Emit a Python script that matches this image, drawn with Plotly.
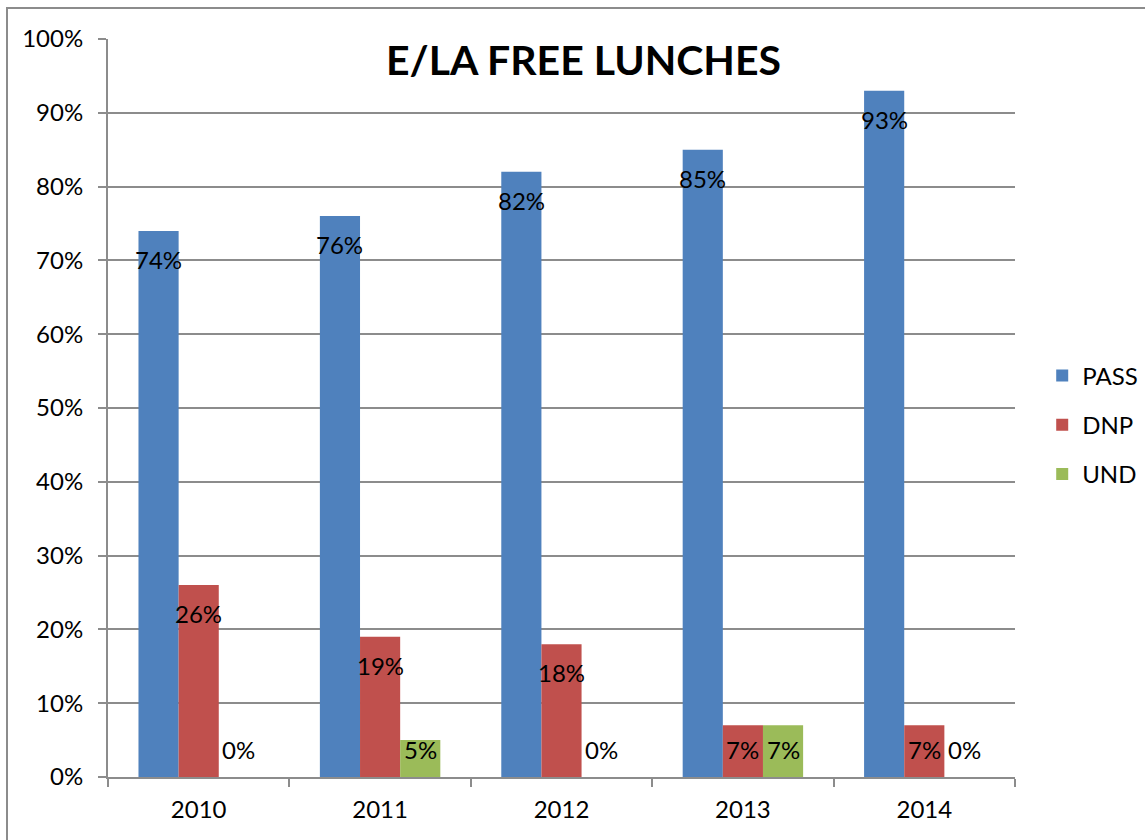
import plotly.graph_objects as go

years = ["2010", "2011", "2012", "2013", "2014"]
series_names = ["PASS", "DNP", "UND"]
pass_vals = [0.74, 0.76, 0.82, 0.85, 0.93]
dnp_vals = [0.26, 0.19, 0.18, 0.07, 0.07]
und_vals = [0.00, 0.05, 0.00, 0.07, 0.00]
colors = ["#4F81BD", "#C0504D", "#9BBB59"]

FONT = "Lato"
FS = 24
all_vals = [pass_vals, dnp_vals, und_vals]
bargap = 0.336
bw = (1 - bargap) / 3

L, R, T, B = 108, 130, 39, 63
W, H = 1145, 840
pw, ph = W - L - R, H - T - B

fig = go.Figure()
for k, (name, vals, col) in enumerate(zip(series_names, all_vals, colors)):
    fig.add_trace(go.Bar(
        x=years, y=vals, name=name, marker=dict(color=col, line=dict(width=0)),
        legendgroup=name,
    ))

annotations = []
for k, vals in enumerate(all_vals):
    off = (k - 1) * bw
    for i, v in enumerate(vals):
        annotations.append(dict(
            x=i + off, y=max(v - 0.039, 0.0366), xref="x", yref="y",
            text=f"{round(v*100)}%", showarrow=False,
            font=dict(family=FONT, size=FS, color="black"),
            xanchor="center", yanchor="middle",
        ))

annotations.append(dict(
    x=(583 - L) / pw, y=(H - B - 59) / ph, xref="paper", yref="paper",
    text="<b>E/LA FREE LUNCHES</b>",
    showarrow=False, font=dict(family=FONT, size=41, color="black"),
    xanchor="center", yanchor="middle",
))

fig.update_layout(
    width=W, height=H,
    margin=dict(l=L, r=R, t=T, b=B, autoexpand=False),
    paper_bgcolor="white", plot_bgcolor="white",
    barmode="group", bargap=bargap, bargroupgap=0,
    font=dict(family=FONT, size=FS, color="black"),
    showlegend=True,
    legend=dict(x=1.03, y=(H - B - 425) / ph, xanchor="left", yanchor="middle",
                font=dict(family=FONT, size=FS), tracegroupgap=15,
                bgcolor="rgba(0,0,0,0)"),
    annotations=annotations,
    xaxis=dict(type="category", showgrid=False, showline=True, linecolor="#8C8C8C",
               linewidth=2, ticks="outside", tickson="boundaries", ticklen=8,
               tickcolor="#8C8C8C", tickwidth=2, tickfont=dict(family=FONT, size=FS),
               ticklabelstandoff=10),
    yaxis=dict(range=[0, 1], dtick=0.1, tickformat=".0%", showgrid=True,
               gridcolor="#8C8C8C", gridwidth=1.5, showline=True, linecolor="#8C8C8C",
               linewidth=2, ticks="outside", ticklen=8, tickcolor="#8C8C8C",
               tickwidth=2, tickfont=dict(family=FONT, size=FS), zeroline=False,
               ticklabelstandoff=10),
    shapes=[dict(type="rect", xref="paper", yref="paper",
                 x0=(7 - L) / pw, x1=2, y0=-1, y1=(H - B - 8) / ph,
                 line=dict(color="#8C8C8C", width=2), fillcolor="rgba(0,0,0,0)",
                 layer="below")],
)

fig.write_html("out.html", config={"displayModeBar": False},
               post_script="document.body.style.margin='0';document.body.style.overflow='hidden';")
